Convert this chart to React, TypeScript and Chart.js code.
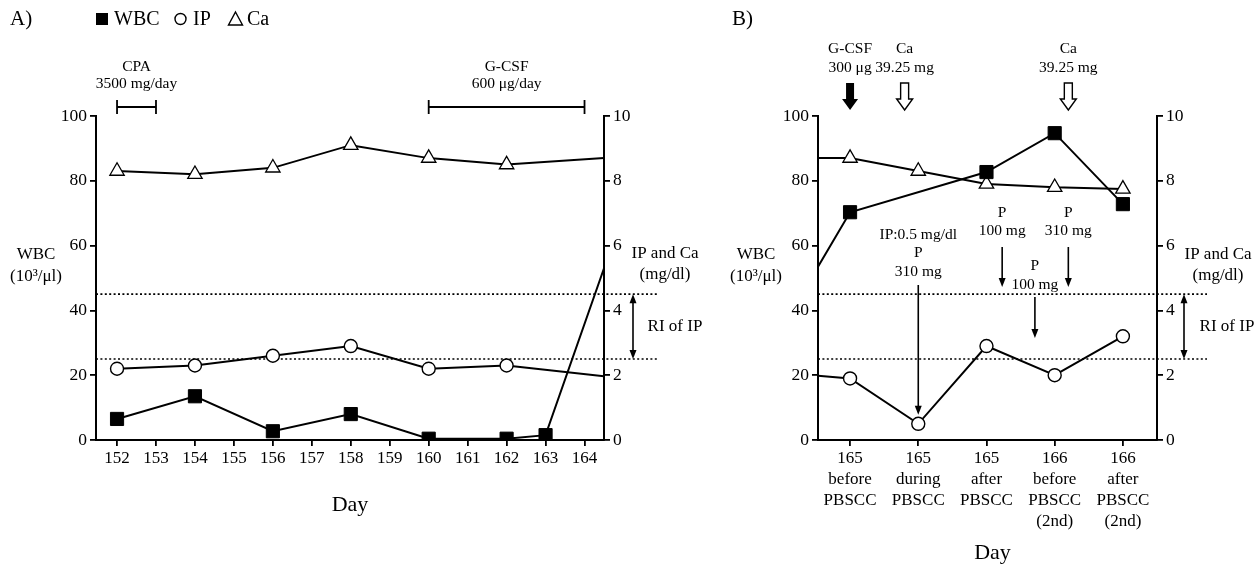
import React, { useEffect, useRef } from 'react';
import { Chart, registerables } from 'chart.js';

Chart.register(...registerables);

const FONT = "'Liberation Serif', 'Times New Roman', serif";

// ---------- Panel A data ----------
const dayLabelsA = ['152', '153', '154', '155', '156', '157', '158', '159', '160', '161', '162', '163', '164'];
const xMinA = -0.54;
const xMaxA = 12.5;
const wbcXA = [0, 2, 4, 6, 8, 10, 11, xMaxA];
const wbcA = [6.5, 13.5, 2.7, 8, 0.4, 0.4, 1.5, 53];
const ionXA = [0, 2, 4, 6, 8, 10, xMaxA];
const ipA = [2.2, 2.3, 2.6, 2.9, 2.2, 2.3, 1.97];
const caA = [8.3, 8.2, 8.4, 9.1, 8.7, 8.5, 8.7];
const cpaSpan = [0, 1];
const gcsfSpan = [8, 12];

// ---------- Panel B data ----------
const stageLabelsB = [
  ['165', 'before', 'PBSCC'],
  ['165', 'during', 'PBSCC'],
  ['165', 'after', 'PBSCC'],
  ['166', 'before', 'PBSCC', '(2nd)'],
  ['166', 'after', 'PBSCC', '(2nd)'],
];
const xMinB = -0.47;
const xMaxB = 4.5;
const xB = [xMinB, 0, 1, 2, 3, 4];
const wbcB = [53.5, 70.3, null, 82.7, 94.7, 72.8];
const ipB = [1.98, 1.9, 0.5, 2.9, 2.0, 3.2];
const caB = [8.7, 8.7, 8.3, 7.9, 7.8, 7.75];
const gcsfDoseX = 0;
const caDoseX = [0.8, 3.2];
const pDoseX = [1, 2.23, 2.71, 3.2];

// ---------- Shared ----------
const riRange = [2.5, 4.5];
const leftTicks = { min: 0, max: 100, step: 20 };
const rightTicks = { min: 0, max: 10, step: 2 };

const ANN = 15.5;
const TITLE = 17;

const pts = (xs: number[], ys: (number | null)[]) => xs.map((x, i) => ({ x, y: ys[i] }));

function txt(ctx: CanvasRenderingContext2D, s: string, x: number, y: number, size: number, align: CanvasTextAlign = 'center') {
  ctx.save();
  ctx.font = `${size}px ${FONT}`;
  ctx.textAlign = align;
  ctx.textBaseline = 'middle';
  ctx.fillStyle = '#000';
  ctx.fillText(s, x, y);
  ctx.restore();
}

function headDown(ctx: CanvasRenderingContext2D, x: number, y: number, w = 7, h = 9) {
  ctx.beginPath();
  ctx.moveTo(x, y);
  ctx.lineTo(x - w / 2, y - h);
  ctx.lineTo(x + w / 2, y - h);
  ctx.closePath();
  ctx.fill();
}
function headUp(ctx: CanvasRenderingContext2D, x: number, y: number, w = 7, h = 9) {
  ctx.beginPath();
  ctx.moveTo(x, y);
  ctx.lineTo(x - w / 2, y + h);
  ctx.lineTo(x + w / 2, y + h);
  ctx.closePath();
  ctx.fill();
}

function arrowDown(ctx: CanvasRenderingContext2D, x: number, y0: number, y1: number) {
  ctx.save();
  ctx.strokeStyle = '#000';
  ctx.fillStyle = '#000';
  ctx.lineWidth = 1.6;
  ctx.beginPath();
  ctx.moveTo(x, y0);
  ctx.lineTo(x, y1 - 6);
  ctx.stroke();
  headDown(ctx, x, y1);
  ctx.restore();
}

function doubleArrow(ctx: CanvasRenderingContext2D, x: number, yTop: number, yBot: number) {
  ctx.save();
  ctx.strokeStyle = '#000';
  ctx.fillStyle = '#000';
  ctx.lineWidth = 1.6;
  ctx.beginPath();
  ctx.moveTo(x, yTop + 6);
  ctx.lineTo(x, yBot - 6);
  ctx.stroke();
  headUp(ctx, x, yTop);
  headDown(ctx, x, yBot);
  ctx.restore();
}

function blockArrow(ctx: CanvasRenderingContext2D, x: number, yTop: number, yBot: number, filled: boolean) {
  const sw = 4;
  const hw = 8;
  const hh = 11;
  ctx.save();
  ctx.beginPath();
  ctx.moveTo(x - sw, yTop);
  ctx.lineTo(x + sw, yTop);
  ctx.lineTo(x + sw, yBot - hh);
  ctx.lineTo(x + hw, yBot - hh);
  ctx.lineTo(x, yBot);
  ctx.lineTo(x - hw, yBot - hh);
  ctx.lineTo(x - sw, yBot - hh);
  ctx.closePath();
  if (filled) {
    ctx.fillStyle = '#000';
    ctx.fill();
  } else {
    ctx.fillStyle = '#fff';
    ctx.fill();
    ctx.strokeStyle = '#000';
    ctx.lineWidth = 1.4;
    ctx.stroke();
  }
  ctx.restore();
}

function bracket(ctx: CanvasRenderingContext2D, x0: number, x1: number, y: number) {
  ctx.save();
  ctx.strokeStyle = '#000';
  ctx.lineWidth = 1.8;
  ctx.beginPath();
  ctx.moveTo(x0, y);
  ctx.lineTo(x1, y);
  ctx.moveTo(x0, y - 7);
  ctx.lineTo(x0, y + 7);
  ctx.moveTo(x1, y - 7);
  ctx.lineTo(x1, y + 7);
  ctx.stroke();
  ctx.restore();
}

function dotted(ctx: CanvasRenderingContext2D, x0: number, x1: number, y: number) {
  ctx.save();
  ctx.strokeStyle = '#000';
  ctx.lineWidth = 1.7;
  ctx.setLineDash([2, 2.4]);
  ctx.beginPath();
  ctx.moveTo(x0, y);
  ctx.lineTo(x1, y);
  ctx.stroke();
  ctx.restore();
}

function datasets(wx: number[], wy: (number | null)[], ix: number[], iy: number[], cy: number[], edgeXs: number[]) {
  const r = (xs: number[], rad: number) => xs.map((x) => (edgeXs.includes(x) ? 0 : rad));
  return [
    {
      label: 'WBC',
      data: pts(wx, wy),
      yAxisID: 'y',
      borderColor: '#000',
      backgroundColor: '#000',
      borderWidth: 2,
      pointStyle: 'rect',
      pointRadius: r(wx, 9.3),
      pointBorderWidth: 1,
      spanGaps: true,
      tension: 0,
    },
    {
      label: 'IP',
      data: pts(ix, iy),
      yAxisID: 'y1',
      borderColor: '#000',
      backgroundColor: '#fff',
      borderWidth: 2,
      pointStyle: 'circle',
      pointRadius: r(ix, 6.5),
      pointBorderWidth: 1.4,
      tension: 0,
    },
    {
      label: 'Ca',
      data: pts(ix, cy),
      yAxisID: 'y1',
      borderColor: '#000',
      backgroundColor: '#fff',
      borderWidth: 2,
      pointStyle: 'triangle',
      pointRadius: r(ix, 8.3),
      pointBorderWidth: 1.3,
      tension: 0,
    },
  ];
}

function scales(xMin: number, xMax: number, labels: (string | string[])[], leftW: number) {
  const grid = { drawOnChartArea: false, drawTicks: true, tickLength: 6, color: '#000', lineWidth: 1.8 };
  const border = { color: '#000', width: 2 };
  return {
    x: {
      type: 'linear',
      min: xMin,
      max: xMax,
      afterBuildTicks: (axis: any) => {
        axis.ticks = labels.map((_, i) => ({ value: i }));
      },
      afterFit: (s: any) => {
        s.height = 127;
      },
      ticks: {
        callback: (v: number) => labels[v],
        font: { family: FONT, size: 17, lineHeight: 1.23 },
        color: '#000',
        padding: 2,
        maxRotation: 0,
        autoSkip: false,
      },
      grid,
      border,
    },
    y: {
      position: 'left',
      min: leftTicks.min,
      max: leftTicks.max,
      afterFit: (s: any) => {
        s.width = leftW;
      },
      ticks: { stepSize: leftTicks.step, font: { family: FONT, size: 17.5 }, color: '#000', padding: 3 },
      grid,
      border,
    },
    y1: {
      position: 'right',
      min: rightTicks.min,
      max: rightTicks.max,
      afterFit: (s: any) => {
        s.width = 26;
      },
      ticks: { stepSize: rightTicks.step, font: { family: FONT, size: 17.5 }, color: '#000', padding: 3 },
      grid,
      border,
    },
  };
}

function legendMarks(ctx: CanvasRenderingContext2D) {
  const y = 19;
  ctx.save();
  ctx.fillStyle = '#000';
  ctx.fillRect(96, y - 6, 12, 12);
  txt(ctx, 'WBC', 114, y + 1, 20, 'left');
  ctx.strokeStyle = '#000';
  ctx.lineWidth = 1.4;
  ctx.beginPath();
  ctx.arc(180.5, y, 5.5, 0, Math.PI * 2);
  ctx.stroke();
  txt(ctx, 'IP', 193, y + 1, 20, 'left');
  ctx.beginPath();
  ctx.moveTo(235.5, y - 7);
  ctx.lineTo(242.5, y + 6);
  ctx.lineTo(228.5, y + 6);
  ctx.closePath();
  ctx.stroke();
  txt(ctx, 'Ca', 247, y + 1, 20, 'left');
  ctx.restore();
}

const panelAPlugin = {
  id: 'panelA',
  beforeDatasetsDraw(chart: any) {
    const { ctx, chartArea, scales: s } = chart;
    riRange.forEach((v) => dotted(ctx, chartArea.left, chartArea.right + 53, s.y1.getPixelForValue(v)));
  },
  afterDraw(chart: any) {
    const { ctx, chartArea, scales: s } = chart;
    const x = s.x;
    txt(ctx, 'A)', 10, 19, 21, 'left');
    legendMarks(ctx);
    const c0 = x.getPixelForValue(cpaSpan[0]);
    const c1 = x.getPixelForValue(cpaSpan[1]);
    bracket(ctx, c0, c1, 107);
    txt(ctx, 'CPA', (c0 + c1) / 2, 67, ANN);
    txt(ctx, '3500 mg/day', (c0 + c1) / 2, 84, ANN);
    const g0 = x.getPixelForValue(gcsfSpan[0]);
    const g1 = x.getPixelForValue(gcsfSpan[1]);
    bracket(ctx, g0, g1, 107);
    txt(ctx, 'G-CSF', (g0 + g1) / 2, 67, ANN);
    txt(ctx, '600 \u03BCg/day', (g0 + g1) / 2, 84, ANN);
    txt(ctx, 'WBC', 36, 255, TITLE);
    txt(ctx, '(10\u00B3/\u03BCl)', 36, 277, TITLE);
    txt(ctx, 'IP and Ca', chartArea.right + 61, 254, TITLE);
    txt(ctx, '(mg/dl)', chartArea.right + 61, 275, TITLE);
    const yt = s.y1.getPixelForValue(riRange[1]);
    const yb = s.y1.getPixelForValue(riRange[0]);
    doubleArrow(ctx, chartArea.right + 29, yt, yb);
    txt(ctx, 'RI of IP', chartArea.right + 71, (yt + yb) / 2, TITLE);
    txt(ctx, 'Day', (chartArea.left + chartArea.right) / 2, 505, 22);
  },
};

const panelBPlugin = {
  id: 'panelB',
  beforeDatasetsDraw(chart: any) {
    const { ctx, chartArea, scales: s } = chart;
    riRange.forEach((v) => dotted(ctx, chartArea.left, chartArea.right + 50, s.y1.getPixelForValue(v)));
  },
  afterDraw(chart: any) {
    const { ctx, chartArea, scales: s } = chart;
    const x = s.x;
    txt(ctx, 'B)', 12, 19, 21, 'left');
    const gx = x.getPixelForValue(gcsfDoseX);
    txt(ctx, 'G-CSF', gx, 49, ANN);
    txt(ctx, '300 \u03BCg', gx, 68, ANN);
    blockArrow(ctx, gx, 83, 110, true);
    caDoseX.forEach((v) => {
      const cx = x.getPixelForValue(v);
      txt(ctx, 'Ca', cx, 49, ANN);
      txt(ctx, '39.25 mg', cx, 68, ANN);
      blockArrow(ctx, cx, 83, 110, false);
    });
    const p0 = x.getPixelForValue(pDoseX[0]);
    txt(ctx, 'IP:0.5 mg/dl', p0, 235, ANN);
    txt(ctx, 'P', p0, 253, ANN);
    txt(ctx, '310 mg', p0, 272, ANN);
    arrowDown(ctx, p0, 285, s.y1.getPixelForValue(ipB[2]) - 9);
    const p1 = x.getPixelForValue(pDoseX[1]);
    txt(ctx, 'P', p1, 213, ANN);
    txt(ctx, '100 mg', p1, 231, ANN);
    arrowDown(ctx, p1, 247, 287);
    const p3 = x.getPixelForValue(pDoseX[3]);
    txt(ctx, 'P', p3, 213, ANN);
    txt(ctx, '310 mg', p3, 231, ANN);
    arrowDown(ctx, p3, 247, 287);
    const p2 = x.getPixelForValue(pDoseX[2]);
    txt(ctx, 'P', p2, 266, ANN);
    txt(ctx, '100 mg', p2, 285, ANN);
    arrowDown(ctx, p2, 297, 338);
    txt(ctx, 'WBC', 36, 255, TITLE);
    txt(ctx, '(10\u00B3/\u03BCl)', 36, 277, TITLE);
    txt(ctx, 'IP and Ca', chartArea.right + 61, 255, TITLE);
    txt(ctx, '(mg/dl)', chartArea.right + 61, 276, TITLE);
    const yt = s.y1.getPixelForValue(riRange[1]);
    const yb = s.y1.getPixelForValue(riRange[0]);
    doubleArrow(ctx, chartArea.right + 27, yt, yb);
    txt(ctx, 'RI of IP', chartArea.right + 70, (yt + yb) / 2, TITLE);
    txt(ctx, 'Day', (chartArea.left + chartArea.right) / 2 + 5, 553, 22);
  },
};

function Panel(props: { left: number; width: number; config: any }) {
  const ref = useRef<HTMLCanvasElement | null>(null);
  useEffect(() => {
    if (!ref.current) return;
    const chart = new Chart(ref.current, props.config);
    return () => chart.destroy();
  }, []);
  return (
    <canvas
      ref={ref}
      width={props.width}
      height={567}
      style={{ position: 'absolute', left: props.left, top: 0, width: props.width, height: 567 }}
    />
  );
}

const configA = {
  type: 'line',
  data: { datasets: datasets(wbcXA, wbcA, ionXA, ipA, caA, [xMaxA]) },
  options: {
    animation: false,
    responsive: false,
    devicePixelRatio: 1,
    layout: { padding: { left: 0, top: 116, right: 720 - 630, bottom: 0 } },
    plugins: { legend: { display: false }, tooltip: { enabled: false } },
    scales: scales(xMinA, xMaxA, dayLabelsA, 96),
  },
  plugins: [panelAPlugin],
};

const configB = {
  type: 'line',
  data: { datasets: datasets(xB, wbcB, xB, ipB, caB, [xMinB]) },
  options: {
    animation: false,
    responsive: false,
    devicePixelRatio: 1,
    layout: { padding: { left: 0, top: 116, right: 540 - 463, bottom: 0 } },
    plugins: { legend: { display: false }, tooltip: { enabled: false } },
    scales: scales(xMinB, xMaxB, stageLabelsB, 98),
  },
  plugins: [panelBPlugin],
};

export default function App() {
  return (
    <div style={{ position: 'absolute', left: 0, top: 0, width: 1260, height: 567, background: '#fff', overflow: 'hidden' }}>
      <Panel left={0} width={720} config={configA} />
      <Panel left={720} width={540} config={configB} />
    </div>
  );
}
